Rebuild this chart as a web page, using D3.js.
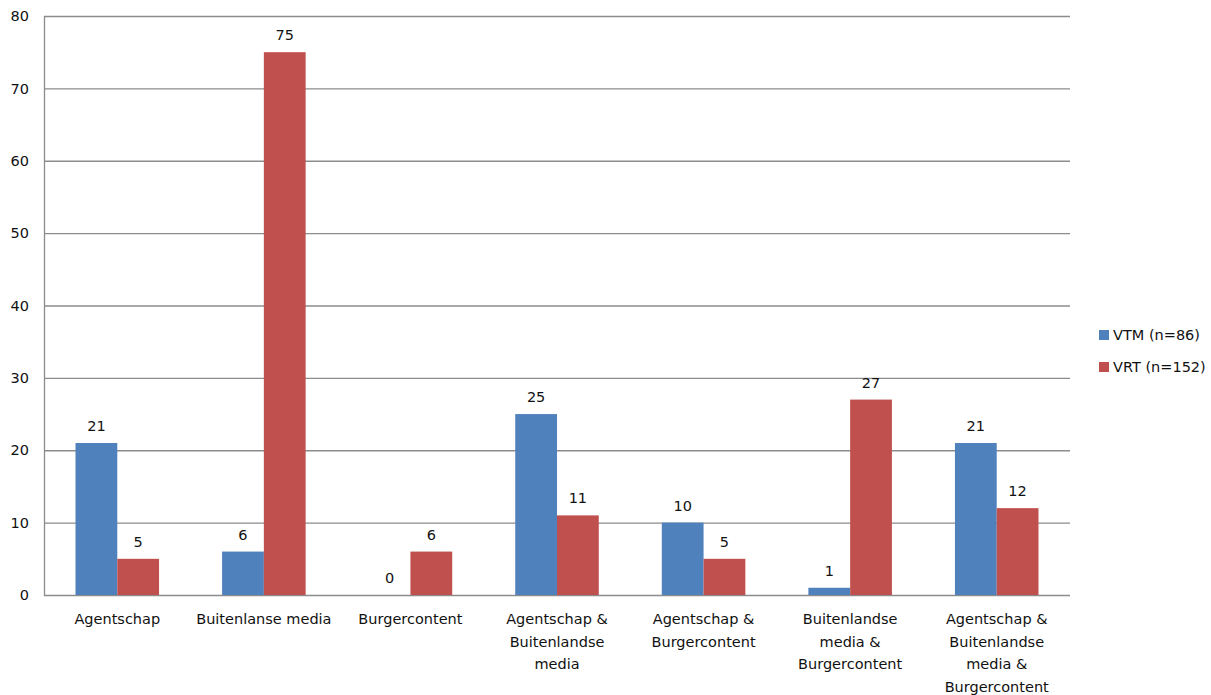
<!DOCTYPE html>
<html>
<head>
<meta charset="utf-8">
<script src="https://cdn.jsdelivr.net/npm/d3@7"></script>
<style>
  body { margin: 0; background: #fff; }
  text { font-family: "DejaVu Sans", Verdana, sans-serif; font-size: 14.5px; fill: #111; }
</style>
</head>
<body>
<div id="chart"></div>
<script>
// Category labels, one entry per group, split into the lines shown under the axis
const categories = [
  ["Agentschap"],
  ["Buitenlanse media"],
  ["Burgercontent"],
  ["Agentschap &", "Buitenlandse", "media"],
  ["Agentschap &", "Burgercontent"],
  ["Buitenlandse", "media &", "Burgercontent"],
  ["Agentschap &", "Buitenlandse", "media &", "Burgercontent"]
];

// Series
const seriesNames = ["VTM (n=86)", "VRT (n=152)"];
const vtmValues = [21, 6, 0, 25, 10, 1, 21];
const vrtValues = [5, 75, 6, 11, 5, 27, 12];
const seriesColors = ["#4F81BD", "#C0504D"];

// Y axis ticks
const yTicks = [0, 10, 20, 30, 40, 50, 60, 70, 80];

const W = 1211, H = 695;
const margin = { top: 16, right: 141, bottom: 100, left: 44 };
const width = W - margin.left - margin.right;
const height = H - margin.top - margin.bottom;

const svg = d3.select("#chart").append("svg")
  .attr("width", W)
  .attr("height", H);

const g = svg.append("g")
  .attr("transform", "translate(" + margin.left + "," + margin.top + ")");

// Scales
const x0 = d3.scaleBand()
  .domain(d3.range(categories.length))
  .range([0, width])
  .paddingInner(0.43)
  .paddingOuter(0.215);

const x1 = d3.scaleBand()
  .domain([0, 1])
  .range([0, x0.bandwidth()]);

const y = d3.scaleLinear()
  .domain([0, 80])
  .range([height, 0]);

// Grid lines
g.selectAll("line.grid")
  .data(yTicks)
  .enter()
  .append("line")
  .attr("class", "grid")
  .attr("x1", 0)
  .attr("x2", width)
  .attr("y1", d => y(d) + 0.5)
  .attr("y2", d => y(d) + 0.5)
  .attr("stroke", "#8c8c8c")
  .attr("stroke-width", 1.3);

// Left axis line
g.append("line")
  .attr("x1", 0.5).attr("x2", 0.5)
  .attr("y1", 0).attr("y2", height + 0.5)
  .attr("stroke", "#8c8c8c")
  .attr("stroke-width", 1.3);

// Y tick labels
const yAxis = d3.axisLeft(y).tickValues(yTicks).tickSize(0).tickPadding(15);
const gY = g.append("g").call(yAxis);
gY.select(".domain").remove();
gY.selectAll("text")
  .style("font-family", "\"DejaVu Sans\", Verdana, sans-serif")
  .style("font-size", "14.5px")
  .attr("fill", "#111");

// Bars
const rows = categories.map((c, i) => [vtmValues[i], vrtValues[i]]);

const groups = g.selectAll("g.group")
  .data(rows)
  .enter()
  .append("g")
  .attr("class", "group")
  .attr("transform", (d, i) => "translate(" + x0(i) + ",0)");

groups.selectAll("rect")
  .data(d => d)
  .enter()
  .append("rect")
  .attr("x", (d, s) => x1(s))
  .attr("y", d => y(d))
  .attr("width", x1.bandwidth())
  .attr("height", d => height - y(d))
  .attr("fill", (d, s) => seriesColors[s]);

// Value labels
groups.selectAll("text.value")
  .data(d => d)
  .enter()
  .append("text")
  .attr("class", "value")
  .attr("x", (d, s) => x1(s) + x1.bandwidth() / 2)
  .attr("y", d => y(d) - 12)
  .attr("text-anchor", "middle")
  .text(d => d);

// Category labels
const gX = g.append("g")
  .attr("transform", "translate(0," + height + ")");

categories.forEach((lines, i) => {
  const t = gX.append("text")
    .attr("text-anchor", "middle")
    .attr("x", x0(i) + x0.bandwidth() / 2)
    .attr("y", 29);
  lines.forEach((line, k) => {
    t.append("tspan")
      .attr("x", x0(i) + x0.bandwidth() / 2)
      .attr("dy", k === 0 ? 0 : 22.6)
      .text(line);
  });
});

// Legend
const legend = svg.append("g")
  .attr("transform", "translate(1099,330)");

seriesNames.forEach((name, s) => {
  legend.append("rect")
    .attr("x", 0)
    .attr("y", s * 32)
    .attr("width", 10)
    .attr("height", 10)
    .attr("fill", seriesColors[s]);
  legend.append("text")
    .attr("x", 14)
    .attr("y", s * 32 + 10)
    .text(name);
});
</script>
</body>
</html>
